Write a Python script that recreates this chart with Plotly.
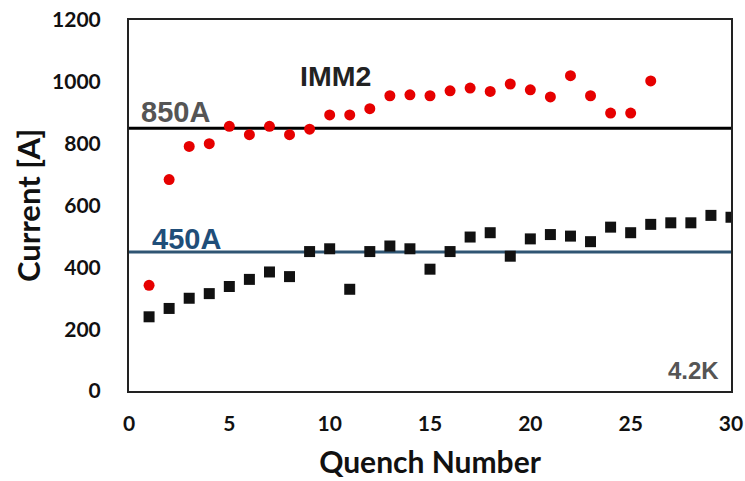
import plotly.graph_objects as go

# Quench training data
quench_red = list(range(1, 27))
current_red = [342, 684, 791, 800, 856, 829, 856, 829, 847, 893, 893, 913, 955,
               958, 955, 971, 980, 969, 993, 974, 951, 1020, 955, 899, 899, 1003]

quench_black = list(range(1, 31))
current_black = [240, 267, 300, 315, 338, 361, 385, 370, 451, 460, 329, 451, 469,
                 460, 394, 451, 498, 512, 436, 492, 506, 501, 483, 530, 512, 539,
                 544, 544, 568, 562]

ref_levels = [850, 450]
ref_labels = ["850A", "450A"]
ref_colors = ["#000000", "#2F5573"]
ref_label_colors = ["#555555", "#1F4E79"]

x_ticks = [0, 5, 10, 15, 20, 25, 30]
y_ticks = [0, 200, 400, 600, 800, 1000, 1200]

fig = go.Figure()

# reference current levels spanning the whole axis
for lvl, col in zip(ref_levels, ref_colors):
    fig.add_trace(go.Scatter(x=[0, 30], y=[lvl, lvl], mode="lines",
                             line=dict(color=col, width=3), hoverinfo="skip",
                             showlegend=False))

fig.add_trace(go.Scatter(x=quench_red, y=current_red, mode="markers",
                         marker=dict(symbol="circle", size=11, color="#E60000"),
                         showlegend=False))
fig.add_trace(go.Scatter(x=quench_black, y=current_black, mode="markers",
                         marker=dict(symbol="square", size=11, color="#111111"),
                         showlegend=False))

label_font = "Liberation Sans, Arial, sans-serif"
fig.add_annotation(x=0.5, y=ref_levels[0] + 53, text="<b>" + ref_labels[0] + "</b>",
                   showarrow=False, xanchor="left", yanchor="middle",
                   font=dict(family=label_font, size=29, color=ref_label_colors[0]))
fig.add_annotation(x=1.05, y=ref_levels[1] + 42, text="<b>" + ref_labels[1] + "</b>",
                   showarrow=False, xanchor="left", yanchor="middle",
                   font=dict(family=label_font, size=29, color=ref_label_colors[1]))
fig.add_annotation(x=8.42, y=1019, text="<b>IMM2</b>",
                   showarrow=False, xanchor="left", yanchor="middle",
                   font=dict(family=label_font, size=28.5, color="#222222"))
fig.add_annotation(x=26.75, y=66, text="<b>4.2K</b>",
                   showarrow=False, xanchor="left", yanchor="middle",
                   font=dict(family=label_font, size=24, color="#555555"))

axis_font = "Lato, Open Sans, sans-serif"
fig.update_layout(
    width=745, height=481,
    margin=dict(l=129, r=14, t=20, b=90),
    paper_bgcolor="white", plot_bgcolor="white",
    font=dict(family=axis_font, color="#111111"),
)
fig.update_xaxes(range=[0, 30], tickvals=x_ticks, showgrid=False, zeroline=False,
                 showline=True, linecolor="#222222", linewidth=2, mirror=True,
                 automargin=False,
                 ticks="outside", ticklen=13, tickcolor="rgba(0,0,0,0)",
                 tickfont=dict(size=21, family=axis_font, weight="bold"),
                 title=dict(text="<b>Quench Number</b>", font=dict(size=30), standoff=18))
fig.update_yaxes(range=[0, 1200], tickvals=y_ticks, showgrid=False, zeroline=False,
                 showline=True, linecolor="#222222", linewidth=2, mirror=True,
                 automargin=False,
                 ticks="outside", ticklen=22, tickcolor="rgba(0,0,0,0)",
                 tickfont=dict(size=21, family=axis_font, weight="bold"),
                 title=dict(text="<b>Current [A]</b>", font=dict(size=31), standoff=2))

fig.write_html("out.html")
